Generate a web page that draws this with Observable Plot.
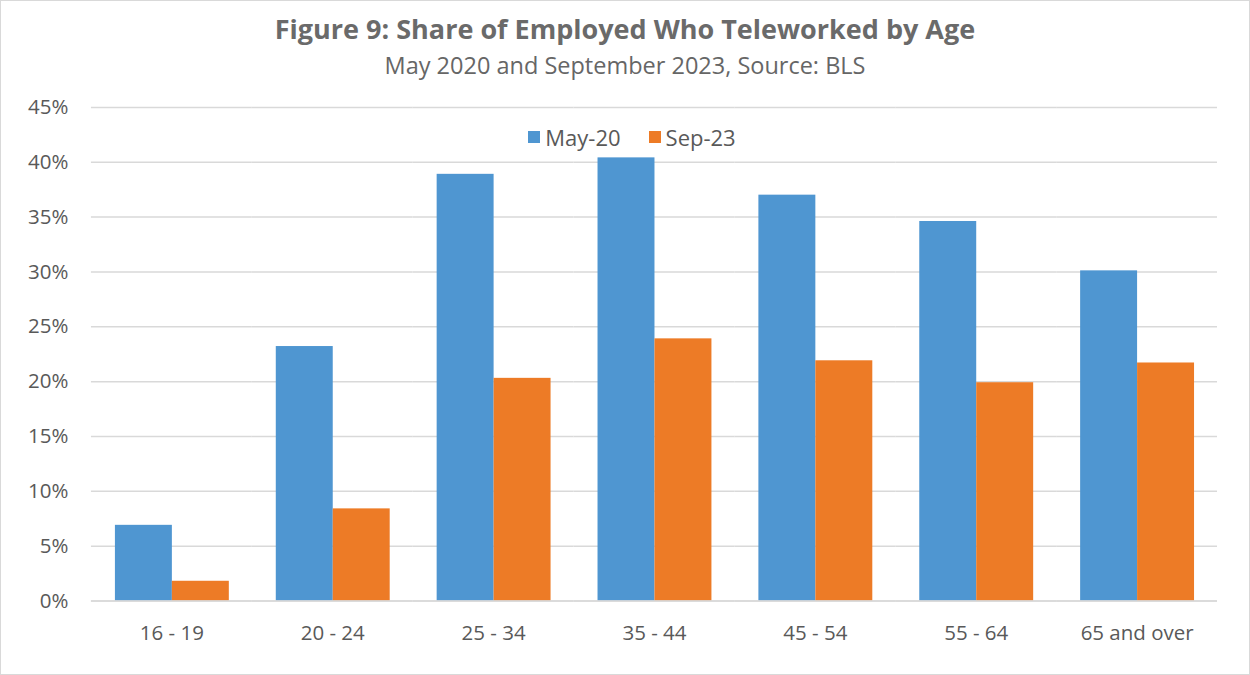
<!DOCTYPE html>
<html>
<head>
<meta charset="utf-8">
<script src="https://cdn.jsdelivr.net/npm/d3@7"></script>
<script src="https://cdn.jsdelivr.net/npm/@observablehq/plot@0.6"></script>
<style>
  html, body { margin: 0; padding: 0; background: #fff; }
  #wrap { position: relative; width: 1248px; height: 673px; border: 1px solid #d9d9d9; font-family: "Open Sans", Lato, sans-serif; color: #595959; overflow: hidden; }
  #title { position: absolute; left: 0; width: 1248px; top: 10px; text-align: center; font-size: 27px; font-weight: bold; color: #6a6a6a; line-height: 36px; }
  #subtitle { position: absolute; left: 0; width: 1248px; top: 48px; text-align: center; font-size: 23.5px; color: #666; line-height: 32px; }
  #legend { position: absolute; left: 0; width: 1262px; top: 120px; display: flex; justify-content: center; gap: 28px; font-size: 22px; color: #595959; line-height: 32px; }
  #legend span.item { display: flex; align-items: center; gap: 5px; }
  #legend span.sw { display: inline-block; width: 12px; height: 12px; }
  #chart { position: absolute; left: -1px; top: -1px; }
</style>
</head>
<body>
<div id="wrap">
  <div id="chart"></div>
  <div id="title">Figure 9: Share of Employed Who Teleworked by Age</div>
  <div id="subtitle">May 2020 and September 2023, Source: BLS</div>
  <div id="legend"></div>
</div>
<script>
const ageGroups = ["16 - 19", "20 - 24", "25 - 34", "35 - 44", "45 - 54", "55 - 64", "65 and over"];
const seriesNames = ["May-20", "Sep-23"];
const may20 = [0.069, 0.232, 0.389, 0.404, 0.370, 0.346, 0.301];
const sep23 = [0.018, 0.084, 0.203, 0.239, 0.219, 0.199, 0.217];
const seriesColors = ["#4F96D1", "#ED7B26"];
const yTicks = [0, 0.05, 0.10, 0.15, 0.20, 0.25, 0.30, 0.35, 0.40, 0.45];

const data = [];
ageGroups.forEach((g, i) => {
  data.push({age: g, series: seriesNames[0], value: may20[i]});
  data.push({age: g, series: seriesNames[1], value: sep23[i]});
});

const chart = Plot.plot({
  width: 1250,
  height: 675,
  marginTop: 107,
  marginBottom: 74,
  marginLeft: 90,
  marginRight: 32,
  style: {fontFamily: "'Open Sans', Lato, sans-serif", fontSize: "20.5px", color: "#595959", background: "transparent"},
  fx: {domain: ageGroups, padding: 0, label: null, tickSize: 0, tickPadding: 24},
  x: {domain: seriesNames, paddingInner: 0, paddingOuter: 0.4, axis: null},
  y: {domain: [0, 0.45], ticks: yTicks, tickFormat: d3.format(".0%"), label: null, tickSize: 0, tickPadding: 23},
  color: {domain: seriesNames, range: seriesColors},
  marks: [
    Plot.ruleY(yTicks, {stroke: "#d9d9d9", strokeWidth: 1.5}),
    Plot.barY(data, {fx: "age", x: "series", y: "value", fill: "series", inset: 0}),
    Plot.ruleY([0], {stroke: "#d9d9d9", strokeWidth: 1.5})
  ]
});
document.getElementById("chart").appendChild(chart);

const legend = document.getElementById("legend");
seriesNames.forEach((s, i) => {
  const item = document.createElement("span");
  item.className = "item";
  const sw = document.createElement("span");
  sw.className = "sw";
  sw.style.background = seriesColors[i];
  const t = document.createElement("span");
  t.textContent = s;
  item.appendChild(sw);
  item.appendChild(t);
  legend.appendChild(item);
});
</script>
</body>
</html>
